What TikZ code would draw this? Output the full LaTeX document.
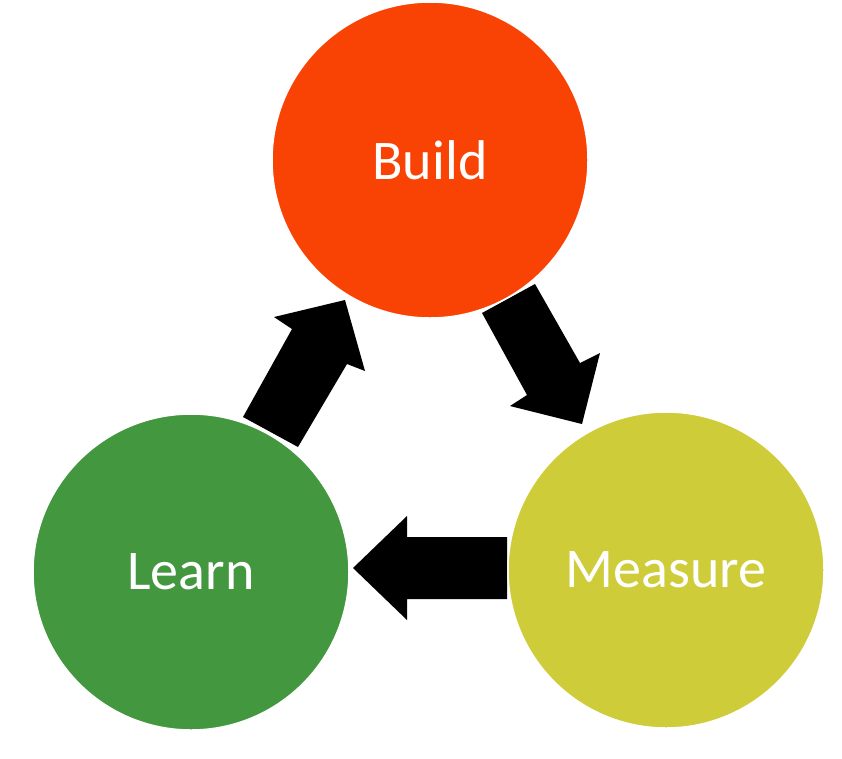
\documentclass[tikz,border=0pt]{standalone}
\usepackage{fontspec}
\setmainfont{Carlito}
\definecolor{buildc}{RGB}{249,67,4}
\definecolor{learnc}{RGB}{67,151,63}
\definecolor{measc}{RGB}{207,204,58}
\begin{document}
\begin{tikzpicture}[x=1pt,y=-1pt,
  stage/.style={circle,minimum size=316pt,inner sep=0pt,draw=white,line width=1.5pt,
    text=white,font=\fontsize{56}{60}\selectfont},
  blockarrow/.style={fill=black,draw=none}]
\useasboundingbox[fill=white] (0,0) rectangle (842,758);
% block arrows (behind circles)
\fill[blockarrow] (243,417) -- (292,329) -- (274,317) -- (345,300) -- (365,371) -- (347,364) -- (298,447) -- cycle;
\fill[blockarrow] (482,313) -- (535,284) -- (580,363) -- (600,353) -- (582,424) -- (510,406) -- (527,395) -- cycle;
\fill[blockarrow] (507,537) -- (407,537) -- (407,516) -- (353,568) -- (407,620) -- (407,599) -- (507,599) -- cycle;
% stages
\node[stage,fill=buildc] (build) at (430,160) {Build};
\node[stage,fill=learnc] (learn) at (191,572) {Learn};
\node[stage,fill=measc] (measure) at (666,570) {Measure};
\end{tikzpicture}
\end{document}
